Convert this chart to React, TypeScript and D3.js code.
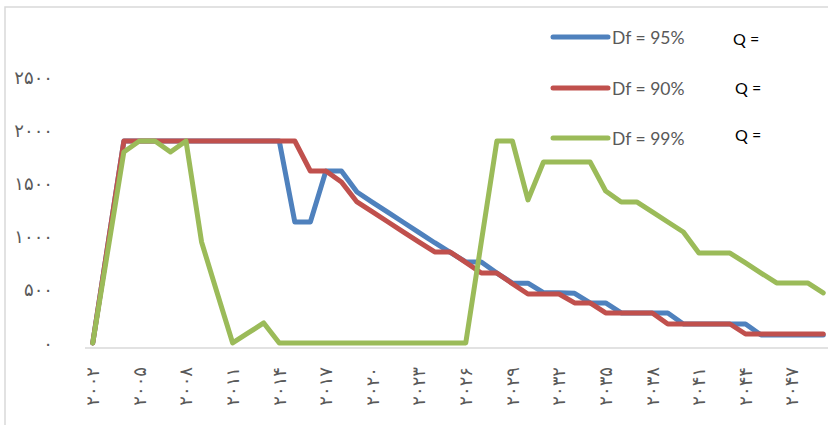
import React from 'react';
import * as d3 from 'd3';

const years: number[] = [
  2002, 2003, 2004, 2005, 2006, 2007, 2008, 2009, 2010, 2011,
  2012, 2013, 2014, 2015, 2016, 2017, 2018, 2019, 2020, 2021,
  2022, 2023, 2024, 2025, 2026, 2027, 2028, 2029, 2030, 2031,
  2032, 2033, 2034, 2035, 2036, 2037, 2038, 2039, 2040, 2041,
  2042, 2043, 2044, 2045, 2046, 2047, 2048, 2049,
];

const df95: number[] = [
  38, 987, 1936, 1936, 1936, 1936, 1936, 1936, 1936, 1936,
  1936, 1936, 1936, 1175, 1175, 1654, 1654, 1457, 1360, 1265,
  1170, 1075, 980, 890, 799, 799, 695, 600, 600, 510,
  510, 505, 414, 414, 320, 320, 320, 320, 216, 216,
  216, 216, 216, 113, 113, 113, 113, 113,
];

const df90: number[] = [
  38, 987, 1936, 1936, 1936, 1936, 1936, 1936, 1936, 1936,
  1936, 1936, 1936, 1936, 1654, 1654, 1551, 1363, 1270, 1175,
  1080, 985, 893, 893, 795, 695, 695, 595, 498, 498,
  498, 414, 414, 320, 320, 320, 320, 216, 216, 216,
  216, 216, 122, 122, 122, 122, 122, 122,
];

const df99: number[] = [
  38, 935, 1833, 1936, 1936, 1833, 1936, 987, 510, 38,
  132, 226, 38, 38, 38, 38, 38, 38, 38, 38,
  38, 38, 38, 38, 38, 987, 1936, 1936, 1382, 1739,
  1739, 1739, 1739, 1466, 1363, 1363, 1270, 1175, 1081, 883,
  883, 883, 790, 695, 602, 602, 602, 508,
];

const yTicks: number[] = [0, 500, 1000, 1500, 2000, 2500];
const xTickYears: number[] = [2002, 2005, 2008, 2011, 2014, 2017, 2020, 2023, 2026, 2029, 2032, 2035, 2038, 2041, 2044, 2047];

const seriesNames: string[] = ['Df = 95%', 'Df = 90%', 'Df = 99%'];
const seriesColors: string[] = ['#4F81BD', '#C0504D', '#9BBB59'];
const qLabels: string[] = ['Q =', 'Q =', 'Q ='];

const persianDigits = '۰۱۲۳۴۵۶۷۸۹';
const toPersian = (n: number) => String(n).replace(/[0-9]/g, (d) => persianDigits[+d]);

export default function App() {
  const width = 828;
  const height = 425;
  const x = d3.scalePoint<number>().domain(years).range([85, 831]).padding(0.5);
  const y = d3.scaleLinear().domain([0, 2500]).range([347, 81]);

  const line = d3
    .line<number>()
    .x((_, i) => x(years[i]) as number)
    .y((d) => y(d));

  const allSeries = [df95, df90, df99];
  const legendY = [37, 88, 138];
  const qY = [38, 87, 134];
  const qX = [733, 735, 735];

  return (
    <svg
      width={width}
      height={height}
      style={{ position: 'absolute', left: 0, top: 0, display: 'block', background: '#fff' }}
    >
      <rect x={5} y={7} width={900} height={500} fill="#fff" stroke="#d9d9d9" strokeWidth={1.5} />
      <line x1={85} x2={828} y1={y(0) + 1} y2={y(0) + 1} stroke="#d9d9d9" strokeWidth={1.5} />
      {yTicks.map((t) => (
        <text
          key={t}
          x={53}
          y={y(t) - 4}
          textAnchor="end"
          dominantBaseline="central"
          fontFamily="DejaVu Sans"
          fontSize={18}
          fill="#595959"
        >
          {toPersian(t)}
        </text>
      ))}
      {xTickYears.map((yr) => (
        <text
          key={yr}
          transform={`translate(${x(yr)},367) rotate(-90)`}
          textAnchor="end"
          dy="0.35em"
          fontFamily="DejaVu Sans"
          fontSize={18}
          fill="#595959"
        >
          {toPersian(yr)}
        </text>
      ))}
      {allSeries.map((s, i) => (
        <path
          key={i}
          d={line(s) || ''}
          fill="none"
          stroke={seriesColors[i]}
          strokeWidth={5}
          strokeLinejoin="round"
          strokeLinecap="round"
        />
      ))}
      {seriesNames.map((n, i) => (
        <g key={n}>
          <line x1={553} x2={608} y1={legendY[i]} y2={legendY[i]} stroke={seriesColors[i]} strokeWidth={5} strokeLinecap="round" />
          <text x={612} y={legendY[i]} dominantBaseline="central" fontFamily="Lato" fontSize={17.5} fill="#595959">
            {n}
          </text>
          <text x={qX[i]} y={qY[i]} dominantBaseline="central" fontFamily="Lato" fontSize={16} fill="#000">
            {qLabels[i]}
          </text>
        </g>
      ))}
    </svg>
  );
}
